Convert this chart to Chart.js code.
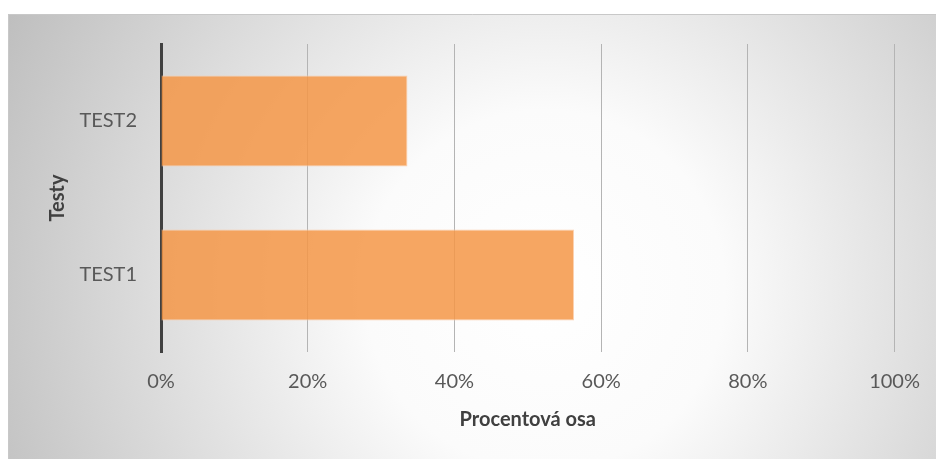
<!DOCTYPE html>
<html>
<head>
<meta charset="utf-8">
<script src="https://cdn.jsdelivr.net/npm/chart.js@4/dist/chart.umd.min.js"></script>
<style>
  html, body { margin: 0; padding: 0; background: #fff; }
  #wrap { width: 938px; height: 459px; position: relative; }
</style>
</head>
<body>
<div id="wrap"><canvas id="c"></canvas></div>
<script>
// data
const categories = ['TEST1', 'TEST2'];
const values     = [0.563, 0.336];
const xTicks     = [0, 0.2, 0.4, 0.6, 0.8, 1];

const txt   = '#595959';
const grid  = '#b4b4b4';
const font  = 'Lato, "Open Sans", sans-serif';

// grey radial backdrop with a light frame line on top and left, like the office chart area
const backdrop = {
  id: 'backdrop',
  beforeDraw(chart) {
    const { ctx, width, height } = chart;
    ctx.save();
    ctx.fillStyle = '#fff';
    ctx.fillRect(0, 0, width, height);
    const g = ctx.createRadialGradient(545, 290, 0, 545, 290, 600);
    g.addColorStop(0, '#ffffff');
    g.addColorStop(0.3, '#fbfbfb');
    g.addColorStop(1, '#bfbfbf');
    ctx.fillStyle = g;
    ctx.fillRect(8, 14, width - 10, height - 14);
    ctx.strokeStyle = '#c8c8c8';
    ctx.lineWidth = 1;
    ctx.beginPath();
    ctx.moveTo(8.5, height);
    ctx.lineTo(8.5, 14.5);
    ctx.lineTo(width - 2, 14.5);
    ctx.stroke();
    ctx.restore();
  },
};

new Chart(document.getElementById('c'), {
  type: 'bar',
  data: {
    labels: categories,
    datasets: [{
      data: values,
      backgroundColor: 'rgba(244,150,70,0.85)',
      borderColor: 'rgba(252,205,170,0.9)',
      borderWidth: 1,
      barPercentage: 0.59,
      categoryPercentage: 1,
    }],
  },
  plugins: [backdrop],
  options: {
    indexAxis: 'y',
    responsive: true,
    maintainAspectRatio: false,
    animation: false,
    layout: { padding: { top: 44, right: 43, left: 0, bottom: 0 } },
    plugins: { legend: { display: false }, tooltip: { enabled: false } },
    scales: {
      x: {
        min: 0,
        max: 1,
        afterBuildTicks: s => { s.ticks = xTicks.map(v => ({ value: v })); },
        afterFit: s => { s.height = 107; },
        grid: { color: grid, lineWidth: 1, drawTicks: false },
        border: { display: false },
        ticks: {
          color: txt,
          padding: 18,
          font: { family: font, size: 20 },
          callback: v => Math.round(v * 100) + '%',
        },
        title: {
          display: true,
          text: 'Procentová osa',
          color: '#404040',
          padding: { top: 0, bottom: 27 },
          font: { family: font, size: 20, weight: 'bold' },
        },
      },
      y: {
        reverse: true,
        afterFit: s => { s.width = 161; },
        grid: { display: false },
        border: { color: '#404040', width: 3 },
        ticks: {
          color: txt,
          padding: 16,
          font: { family: font, size: 20 },
        },
        title: {
          display: true,
          text: 'Testy',
          color: '#404040',
          padding: { top: 46, bottom: 0 },
          font: { family: font, size: 20, weight: 'bold' },
        },
      },
    },
  },
});
</script>
</body>
</html>
